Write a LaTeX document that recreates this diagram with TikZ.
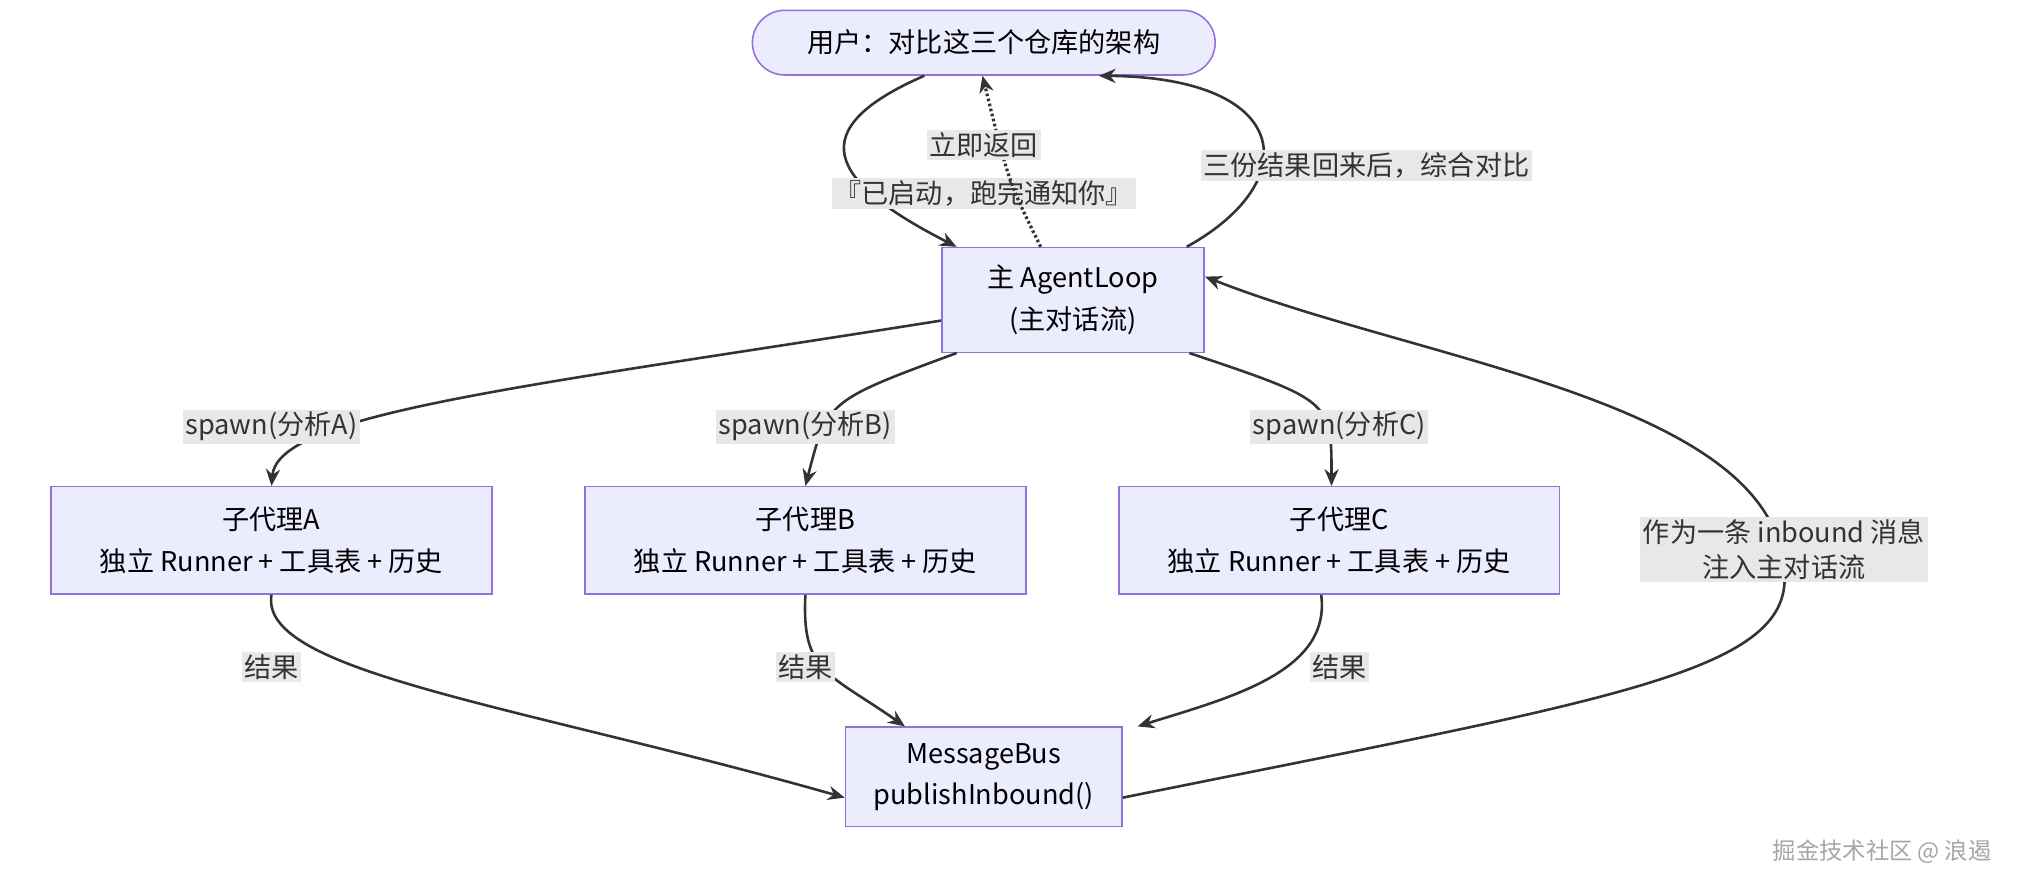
\documentclass[tikz,border=0pt]{standalone}
\usepackage{fontspec}
\setmainfont{Noto Sans CJK SC}
\usetikzlibrary{arrows.meta}
\definecolor{boxfill}{HTML}{ECECFF}
\definecolor{boxline}{HTML}{9370DB}
\definecolor{edgecol}{HTML}{333333}
\definecolor{lblbg}{HTML}{E8E8E8}
\tikzset{>={Stealth[length=13pt,width=11pt]},
  box/.style={draw=boxline,fill=boxfill,line width=1.2pt,align=center,font=\fontsize{21}{32}\selectfont},
  edge/.style={->,draw=edgecol,line width=2pt},
  lbl/.style={fill=lblbg,inner sep=2pt,align=center,font=\fontsize{21}{27}\selectfont,text=edgecol}}
\begin{document}
\begin{tikzpicture}[x=1pt,y=-1pt]
\useasboundingbox (0,0) rectangle (1568,688.5);
% nodes
\node[box,rounded corners=25pt,minimum width=358pt,minimum height=50pt] (user) at (761,33) {用户：对比这三个仓库的架构};
\node[box,minimum width=203pt,minimum height=81pt] (loop) at (830,232) {主 AgentLoop\\(主对话流)};
\node[box,minimum width=341pt,minimum height=83pt] (suba) at (210,418) {子代理A\\独立 Runner + 工具表 + 历史};
\node[box,minimum width=341pt,minimum height=83pt] (subb) at (623,418) {子代理B\\独立 Runner + 工具表 + 历史};
\node[box,minimum width=341pt,minimum height=83pt] (subc) at (1036,418) {子代理C\\独立 Runner + 工具表 + 历史};
\node[box,minimum width=214pt,minimum height=77pt] (bus) at (761,601) {MessageBus\\publishInbound()};
% user and main loop
\draw[edge] ([xshift=-46pt]user.south) .. controls (620,100) and (640,140) .. ([xshift=-90pt]loop.north);
\node[lbl] at (761,150) {『已启动，跑完通知你』};
\draw[edge,dotted,line width=2.5pt] ([xshift=-25pt]loop.north) .. controls (780,140) .. ([xshift=-1pt]user.south);
\node[lbl] at (761,112) {立即返回};
\draw[edge] ([xshift=88pt]loop.north) .. controls (1010,140) and (1000,60) .. ([xshift=89pt]user.south);
\node[lbl] at (1057,128) {三份结果回来后，综合对比};
% spawn
\draw[edge] (loop.west|-0,248) .. controls (400,300) and (215,320) .. (suba.north);
\node[lbl] at (210,330) {spawn(分析A)};
\draw[edge] ([xshift=-90pt]loop.south) .. controls (640,310) .. (subb.north);
\node[lbl] at (623,330) {spawn(分析B)};
\draw[edge] ([xshift=90pt]loop.south) .. controls (1030,310) .. ([xshift=-6pt]subc.north);
\node[lbl] at (1036,330) {spawn(分析C)};
% results
\draw[edge] (suba.south) .. controls (200,520) and (400,545) .. ([yshift=-16pt]bus.west);
\node[lbl] at (210,516) {结果};
\draw[edge] (subb.south) .. controls (620,520) and (640,520) .. ([xshift=-61pt]bus.north);
\node[lbl] at (623,516) {结果};
\draw[edge] ([xshift=-14pt]subc.south) .. controls (1030,520) and (950,540) .. ([xshift=119pt]bus.north);
\node[lbl] at (1036,516) {结果};
% back to main loop
\draw[edge] ([yshift=-16pt]bus.east) .. controls (1250,540) and (1390,520) .. (1380,440) .. controls (1370,310) and (1100,280) .. ([yshift=18pt]loop.east);
\node[lbl] at (1380,425) {作为一条 inbound 消息\\注入主对话流};
% watermark
\node[font=\fontsize{18}{20}\selectfont,text=gray!70] (mark) at (1456,659) {掘金技术社区 @ 浪遏};
\end{tikzpicture}
\end{document}
